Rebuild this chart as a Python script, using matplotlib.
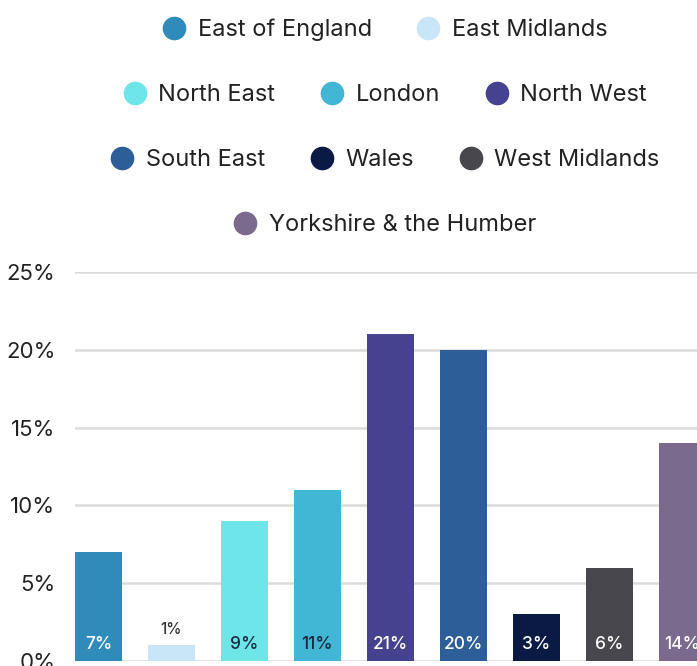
import matplotlib.pyplot as plt
from matplotlib.lines import Line2D

regions = ["East of England", "East Midlands", "North East", "London", "North West",
           "South East", "Wales", "West Midlands", "Yorkshire & the Humber"]
shares = [7, 1, 9, 11, 21, 20, 3, 6, 14]
colors = ["#2E8BBA", "#C9E6F8", "#6EE5E8", "#42B6D5", "#45428F",
          "#2E5E98", "#0B1A45", "#48474D", "#7A6A8E"]
label_colors = ["white", "#333333", "#1a2a40", "#1a2a40", "white",
                "white", "white", "white", "white"]
yticks = [0, 5, 10, 15, 20, 25]
legend_rows = [[0, 1], [2, 3, 4], [5, 6, 7], [8]]

plt.rcParams['font.family'] = ['Inter', 'DejaVu Sans']

fig = plt.figure(figsize=(6.97, 6.66), dpi=100)
W, H = 697, 666
# axes from x=75px to the right edge, y=0 at 661px, 25% at 272px
ax = fig.add_axes([75 / W, (H - 661) / H, 1 - 75 / W, (661 - 272) / H])

x = list(range(len(regions)))
ax.bar(x, shares, width=0.644, color=colors, zorder=3)
ax.set_xlim(-0.322, 8.205)
ax.set_ylim(0, 25)

for xi, v, lc in zip(x, shares, label_colors):
    if v < 2:
        ax.text(xi, v + 1.05, f"{v}%", ha='center', va='center', fontsize=11,
                color=lc, fontweight='medium', zorder=4)
    else:
        ax.text(xi, 1.05, f"{v}%", ha='center', va='center', fontsize=12.5,
                color=lc, fontweight='medium', zorder=4)

ax.set_yticks(yticks)
ax.set_yticklabels([f"{t}%" for t in yticks], fontsize=16, color="#222222")
ax.tick_params(axis='y', length=0, pad=14)
ax.tick_params(axis='x', length=0, labelbottom=False)
ax.grid(axis='y', color='#dcdcdc', linewidth=1.8, zorder=0)
for s in ax.spines.values():
    s.set_visible(False)

row_y = [30, 95, 160, 225]
for row, yp in zip(legend_rows, row_y):
    handles = [Line2D([], [], marker='o', linestyle='', markersize=16,
                      markerfacecolor=colors[i], markeredgecolor=colors[i]) for i in row]
    leg = fig.legend(handles, [regions[i] for i in row], ncol=len(row),
                     loc='center', bbox_to_anchor=(385 / W, 1 - yp / H),
                     frameon=False, fontsize=17, handletextpad=0.5,
                     columnspacing=1.9, handlelength=1.0, borderpad=0)
    for t in leg.get_texts():
        t.set_color("#222222")

fig.savefig("out.png", dpi=100)
